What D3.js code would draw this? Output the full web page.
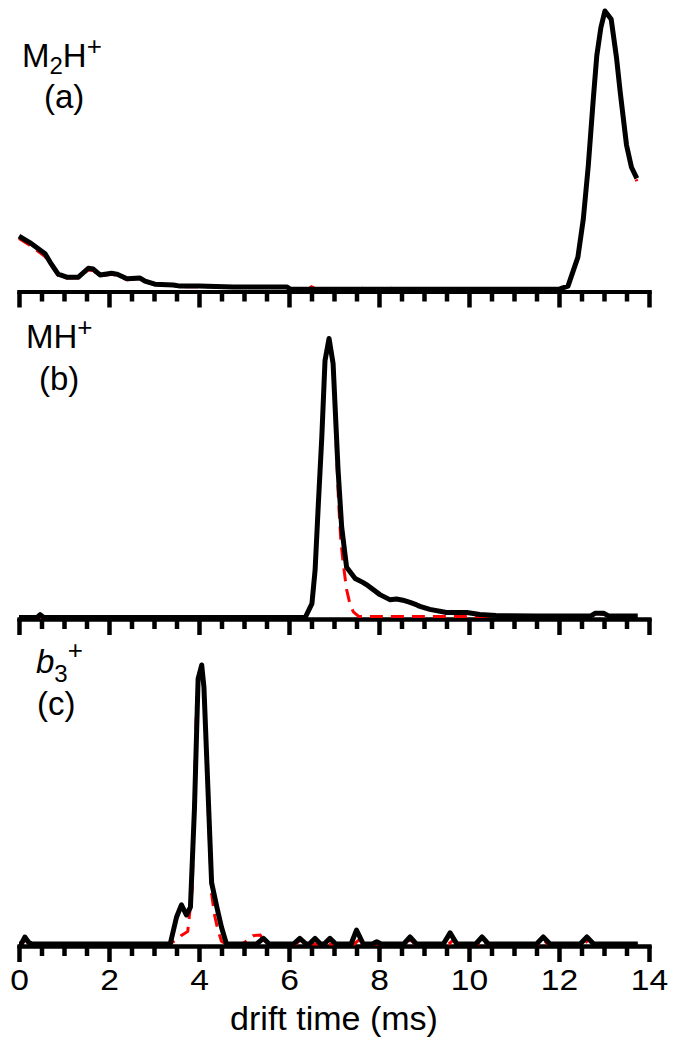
<!DOCTYPE html>
<html><head><meta charset="utf-8">
<script src="https://cdn.jsdelivr.net/npm/d3@7"></script>
<style>
body{margin:0;background:#fff}
svg{display:block}
text{font-family:"Liberation Sans",Arial,sans-serif;fill:#000}
</style>
</head><body>
<script>
// ---------------- data ----------------
const xTickMajor = [0, 2, 4, 6, 8, 10, 12, 14];
const xTickLabels = ["0", "2", "4", "6", "8", "10", "12", "14"];
const xTitle = "drift time (ms)";

// panel (a) M2H+
const aTimeBlack = [0, 0.24, 0.58, 0.69, 0.87, 1.06, 1.32, 1.54, 1.65, 1.8, 2.06, 2.17, 2.4, 2.69, 2.8, 3.02, 3.43, 3.58, 4.0, 4.76, 5.95, 6.02, 7.0, 9.0, 11.0, 12.02, 12.2, 12.42, 12.54, 12.65, 12.76, 12.84, 12.93, 13.02, 13.16, 13.28, 13.36, 13.5, 13.61, 13.73];
const aBlack     = [0.193, 0.17, 0.13, 0.10, 0.057, 0.046, 0.046, 0.078, 0.075, 0.054, 0.06, 0.057, 0.04, 0.043, 0.032, 0.021, 0.018, 0.014, 0.014, 0.011, 0.011, 0.004, 0.003, 0.003, 0.003, 0.004, 0.014, 0.118, 0.254, 0.444, 0.68, 0.84, 0.94, 1.0, 0.97, 0.83, 0.71, 0.52, 0.44, 0.40];
const aTimeRed   = [0, 0.24, 0.58, 0.69, 0.87, 1.06, 1.32, 1.54, 1.65, 1.8, 2.06, 2.17, 2.4, 2.69, 2.8, 3.02, 3.43, 3.58, 4.0, 4.76, 5.95, 6.02, 6.4, 6.5, 6.6, 7.6, 7.7, 7.8, 8.1, 8.2, 8.3, 11.0, 12.02, 12.2, 12.42, 12.54, 12.65, 12.76, 12.84, 12.93, 13.02, 13.16, 13.28, 13.36, 13.5, 13.61, 13.73];
const aRed       = [0.185, 0.16, 0.12, 0.095, 0.052, 0.043, 0.044, 0.072, 0.07, 0.05, 0.056, 0.052, 0.037, 0.04, 0.03, 0.019, 0.016, 0.012, 0.012, 0.01, 0.01, 0.003, 0.003, 0.012, 0.003, 0.003, 0.012, 0.003, 0.003, 0.014, 0.003, 0.003, 0.004, 0.014, 0.118, 0.254, 0.444, 0.68, 0.84, 0.94, 1.0, 0.97, 0.83, 0.71, 0.52, 0.44, 0.39];

// panel (b) MH+
const bTimeBlack = [0, 0.4, 0.47, 0.55, 1, 6.36, 6.51, 6.58, 6.65, 6.73, 6.8, 6.89, 6.98, 7.09, 7.17, 7.28, 7.47, 7.65, 7.72, 8.02, 8.24, 8.39, 8.53, 8.69, 8.84, 8.91, 9.13, 9.5, 9.95, 10.24, 10.6, 11.5, 12.7, 12.8, 13.0, 13.1, 13.75];
const bBlack     = [0, 0, 0.01, 0, 0, 0, 0.05, 0.17, 0.40, 0.65, 0.92, 1.0, 0.91, 0.53, 0.325, 0.18, 0.14, 0.125, 0.118, 0.082, 0.064, 0.066, 0.062, 0.054, 0.045, 0.04, 0.029, 0.018, 0.018, 0.011, 0.007, 0.005, 0.005, 0.015, 0.015, 0.006, 0.005];
const bTimeRed   = [0, 6.36, 6.51, 6.58, 6.65, 6.73, 6.8, 6.89, 6.98, 7.05, 7.1, 7.15, 7.2, 7.28, 7.36, 7.43, 7.55, 12.7, 12.8, 13.0, 13.1, 13.75];
const bRed       = [0, 0, 0.05, 0.17, 0.40, 0.65, 0.92, 1.0, 0.91, 0.62, 0.42, 0.28, 0.2, 0.1, 0.045, 0.02, 0.004, 0.004, 0.012, 0.012, 0.004, 0.004];

// panel (c) b3+
const cTimeBlack = [0, 0.05, 0.13, 0.22, 0.29, 3.36, 3.5, 3.61, 3.72, 3.81, 3.9, 3.98, 4.06, 4.11, 4.2, 4.28, 4.4, 4.5, 4.61, 5.28, 5.43, 5.56, 6.1, 6.24, 6.38, 6.45, 6.58, 6.7, 6.78, 6.91, 7.04, 7.38, 7.5, 7.65, 7.85, 7.95, 8.05, 8.55, 8.69, 8.83, 9.43, 9.58, 9.73, 10.15, 10.29, 10.43, 11.5, 11.65, 11.8, 12.47, 12.62, 12.77, 13.75];
const cBlack     = [0, 0, 0.025, 0.005, 0, 0, 0.096, 0.14, 0.104, 0.132, 0.49, 0.95, 1.0, 0.92, 0.55, 0.22, 0.13, 0.06, 0, 0, 0.02, 0, 0, 0.02, 0, 0, 0.02, 0, 0, 0.02, 0, 0, 0.05, 0, 0, 0.008, 0, 0, 0.025, 0, 0, 0.04, 0, 0, 0.025, 0, 0, 0.025, 0, 0, 0.025, 0, 0];
const cTimeRed   = [0, 0.05, 0.13, 0.22, 3.35, 3.5, 3.6, 3.75, 3.85, 3.95, 4.05, 4.12, 4.2, 4.28, 4.35, 4.42, 4.5, 4.6, 4.95, 5.1, 5.2, 5.36, 5.5, 6.15, 6.26, 6.37, 7.45, 7.56, 7.67, 8.6, 8.7, 8.8, 9.55, 9.66, 9.77, 10.2, 10.3, 10.4, 11.55, 11.65, 11.75, 12.55, 12.66, 12.77, 13.75];
const cRed       = [0, 0, 0.015, 0, 0, 0.015, 0.03, 0.045, 0.2, 0.9, 1.0, 0.9, 0.5, 0.18, 0.1, 0.05, 0.01, 0, 0, 0.015, 0.03, 0.032, 0, 0, 0.015, 0, 0, 0.015, 0, 0, 0.015, 0, 0, 0.015, 0, 0, 0.015, 0, 0, 0.015, 0, 0, 0.015, 0, 0];

// ---------------- drawing ----------------
const W = 676, H = 1044;
const svg = d3.select("body").append("svg").attr("width", W).attr("height", H);
const x = d3.scaleLinear().domain([0, 14]).range([19, 649]);
const xTickMinor = d3.range(0, 14.001, 0.5).filter(v => !xTickMajor.includes(v));

const panels = [
  {y0: 290, axisY: 291.5, tb: aTimeBlack, vb: aBlack, tr: aTimeRed, vr: aRed, labels: false},
  {y0: 617.5, axisY: 619, tb: bTimeBlack, vb: bBlack, tr: bTimeRed, vr: bRed, labels: false},
  {y0: 944, axisY: 946, tb: cTimeBlack, vb: cBlack, tr: cTimeRed, vr: cRed, labels: true}
];

panels.forEach(p => {
  const y = d3.scaleLinear().domain([0, 1]).range([p.y0, p.y0 - 279]);
  const gMin = svg.append("g").attr("transform", `translate(0,${p.axisY})`)
    .call(d3.axisBottom(x).tickValues(xTickMinor).tickSize(10).tickSizeOuter(0).tickFormat(""));
  const gMaj = svg.append("g").attr("transform", `translate(0,${p.axisY})`)
    .call(d3.axisBottom(x).tickValues(xTickMajor).tickSize(16).tickSizeOuter(0).tickPadding(7)
      .tickFormat((d, i) => p.labels ? xTickLabels[i] : ""));
  [gMin, gMaj].forEach(g => {
    g.select(".domain").attr("stroke", "#000").attr("stroke-width", 4).attr("stroke-linecap", "square");
    g.selectAll(".tick line").attr("stroke", "#000").attr("stroke-width", 4.5);
    g.selectAll(".tick text").attr("fill", "#000").style("font-size", "30px")
      .style("font-family", '"Liberation Sans",Arial,sans-serif')
      .attr("transform", "scale(1.12,1)");
  });
  const line = d3.line().x(d => x(d[0])).y(d => y(d[1]));
  svg.append("path").datum(p.tr.map((t, i) => [t, p.vr[i]]))
    .attr("d", line).attr("fill", "none").attr("stroke", "#ff0000")
    .attr("stroke-width", 3).attr("stroke-dasharray", "13,8");
  svg.append("path").datum(p.tb.map((t, i) => [t, p.vb[i]]))
    .attr("d", line).attr("fill", "none").attr("stroke", "#000")
    .attr("stroke-width", 5).attr("stroke-linejoin", "round");
});

function label(xp, yp, parts) {
  const t = svg.append("text").attr("x", xp).attr("y", yp).style("font-size", "33px");
  parts.forEach(pt => {
    const s = t.append("tspan").text(pt.t);
    if (pt.dy) s.attr("dy", pt.dy);
    if (pt.fs) s.style("font-size", pt.fs);
    if (pt.it) s.style("font-style", "italic");
  });
}
label(22, 67, [{t: "M"}, {t: "2", dy: 7, fs: "24px"}, {t: "H", dy: -7}, {t: "+", dy: -12, fs: "26px"}]);
label(44, 108, [{t: "(a)"}]);
label(26, 348, [{t: "MH"}, {t: "+", dy: -12, fs: "26px"}]);
label(39, 390, [{t: "(b)"}]);
label(36, 673, [{t: "b", it: true}, {t: "3", dy: 9, fs: "24px"}, {t: "+", dy: -23, fs: "26px"}]);
label(37, 715, [{t: "(c)"}]);

svg.append("text").attr("x", 334).attr("y", 1030).attr("text-anchor", "middle")
  .style("font-size", "34px").text(xTitle);
</script>
</body></html>
